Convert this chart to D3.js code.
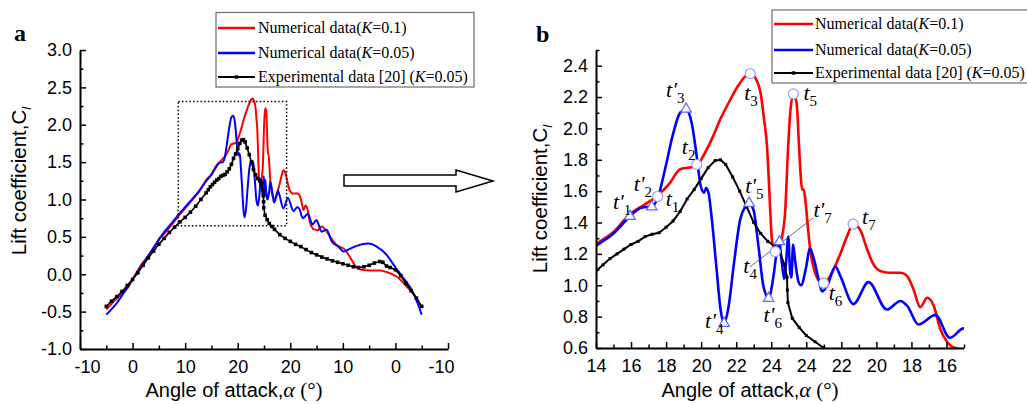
<!DOCTYPE html>
<html><head><meta charset="utf-8">
<script src="https://cdn.jsdelivr.net/npm/d3@7"></script>
<style>body{margin:0;background:#fff}svg{display:block}</style>
</head><body>
<svg id="chart" width="1027" height="404"></svg>
<script>
// Cycle angle: values <= 25 are the upstroke (alpha = value), values > 25 the downstroke (alpha = 50 - value)
const redData = [[-5,-0.47],[-3,-0.32],[-1,-0.19],[0.8,0.03],[1.7,0.13],[2.7,0.22],[4.6,0.42],[5.2,0.49],[5.9,0.53],[7.4,0.66],[9.0,0.80],[10.9,0.96],[12.8,1.12],[14.0,1.26],[15.0,1.34],[15.9,1.45],[16.7,1.51],[17.5,1.57],[18.2,1.65],[18.8,1.74],[19.3,1.75],[19.75,1.76],[20.1,1.82],[20.6,1.93],[21.1,2.06],[21.6,2.17],[22.1,2.27],[22.5,2.33],[22.8,2.35],[23.1,2.32],[23.4,2.22],[23.6,2.05],[23.75,1.90],[23.85,1.70],[23.94,1.48],[24.05,1.28],[24.23,1.215],[24.45,1.24],[24.6,1.30],[24.8,1.48],[24.95,1.85],[25.1,2.12],[25.27,2.22],[25.45,2.16],[25.58,1.90],[25.68,1.70],[25.76,1.61],[25.85,1.61],[25.95,1.54],[26.1,1.36],[26.23,1.22],[26.5,1.08],[26.8,1.02],[27.0,1.01],[27.37,1.06],[27.94,1.20],[28.32,1.31],[28.67,1.39],[29.09,1.35],[29.47,1.23],[29.85,1.13],[30.23,1.09],[30.7,1.08],[31.4,1.08],[31.75,1.06],[32.13,0.97],[32.5,0.86],[32.9,0.92],[33.27,0.87],[33.65,0.72],[34.03,0.64],[34.5,0.60],[35.2,0.59],[36.0,0.64],[36.6,0.60],[37.56,0.505],[38.83,0.39],[40.4,0.33],[41.68,0.19],[42.6,0.09],[43.5,0.06],[45.2,0.05],[47.0,0.05],[48.3,0.03],[50.2,-0.03],[52.1,-0.16],[54.0,-0.32],[55.0,-0.45]];

const blueData = [[-5,-0.54],[-3,-0.385],[-1.1,-0.185],[0.8,0.016],[2.7,0.216],[4.6,0.417],[5.85,0.55],[7.4,0.68],[9.0,0.82],[10.9,0.97],[12.8,1.13],[14.0,1.25],[15.0,1.33],[15.94,1.44],[16.5,1.49],[16.9,1.50],[17.18,1.50],[17.56,1.57],[17.94,1.74],[18.41,1.97],[18.8,2.10],[19.14,2.12],[19.47,2.03],[19.75,1.82],[19.98,1.63],[20.17,1.59],[20.28,1.62],[20.42,1.59],[20.61,1.42],[20.9,1.08],[21.09,0.86],[21.31,0.76],[21.56,0.86],[21.85,1.12],[22.23,1.42],[22.51,1.50],[22.74,1.52],[22.99,1.48],[23.27,1.25],[23.56,0.99],[23.85,0.92],[24.13,1.06],[24.32,1.22],[24.45,1.28],[24.6,1.15],[24.74,1.04],[24.85,1.15],[24.97,1.31],[25.07,1.10],[25.15,1.05],[25.25,1.26],[25.37,1.15],[25.56,1.02],[25.7,1.00],[26.0,1.12],[26.2,1.235],[26.45,1.16],[26.7,1.04],[26.9,0.96],[27.2,1.00],[27.66,1.12],[27.94,1.06],[28.69,0.88],[29.55,1.02],[30.6,0.845],[31.37,0.90],[31.75,0.87],[32.4,0.75],[33.37,0.81],[34.2,0.665],[34.98,0.725],[35.2,0.70],[35.97,0.57],[36.9,0.595],[37.88,0.44],[39.14,0.37],[40.1,0.305],[41.04,0.33],[42.63,0.38],[44.85,0.41],[46.43,0.37],[48.33,0.26],[49.92,0.10],[51.5,-0.05],[53.4,-0.25],[55.0,-0.54]];

const expData = [[-5,-0.43],[-4,-0.36],[-3,-0.30],[-2,-0.23],[-1,-0.15],[0,-0.07],[1,0.02],[2,0.12],[3,0.22],[4,0.31],[5,0.40],[6,0.48],[7,0.56],[8,0.63],[9,0.70],[10,0.76],[11,0.83],[12,0.91],[13,1.00],[14.0,1.09],[14.4,1.13],[14.8,1.17],[15.2,1.20],[15.6,1.23],[16.0,1.26],[16.4,1.28],[16.8,1.31],[17.2,1.325],[17.6,1.335],[18.0,1.37],[18.4,1.41],[18.8,1.47],[19.2,1.55],[19.6,1.61],[20.0,1.68],[20.4,1.75],[20.8,1.795],[21.1,1.80],[21.4,1.77],[21.8,1.69],[22.2,1.60],[22.6,1.50],[23.0,1.40],[23.4,1.33],[23.8,1.28],[24.2,1.25],[24.5,1.21],[24.75,1.13],[24.9,1.05],[24.92,0.97],[24.95,0.89],[25.2,0.79],[25.6,0.73],[26.0,0.68],[26.5,0.64],[27.0,0.60],[28.0,0.53],[29.0,0.48],[30.0,0.44],[31.0,0.40],[32.0,0.37],[33.0,0.33],[34.0,0.29],[35.0,0.26],[36.0,0.23],[37.0,0.205],[38.0,0.18],[39.0,0.16],[40.0,0.14],[41.0,0.12],[42.0,0.10],[43.0,0.09],[44.0,0.10],[45.0,0.12],[46.0,0.15],[47.0,0.17],[47.6,0.16],[48.3,0.11],[49.0,0.09],[50.0,0.06],[51.0,-0.02],[52.0,-0.12],[53.0,-0.22],[54.0,-0.32],[55.0,-0.43]];

// Instant markers (panel b)
const tPoints = [["1",17.52,1.566],["2",19.75,1.77],["3",22.8,2.35],["4",24.23,1.215],["5",25.27,2.22],["6",26.99,1.013],["7",28.67,1.39]];
const tPrimePoints = [["1",15.94,1.44],["2",17.18,1.50],["3",19.14,2.123],["4",21.31,0.757],["5",22.74,1.523],["6",23.85,0.917],["7",24.47,1.278]];

// Axes
const leftXTicks = [-10,0,10,20,30,40,50,60];
const leftXMinor = [-5,5,15,25,35,45,55];
const leftYTicks = [-1,-0.5,0,0.5,1,1.5,2,2.5,3];
const rightXTicks = [14,16,18,20,22,24,26,28,30,32,34];
const rightXMinor = [15,17,19,21,23,25,27,29,31,33,35];
const rightYTicks = [0.6,0.8,1.0,1.2,1.4,1.6,1.8,2.0,2.2,2.4];
const legendLabels = [["Numerical data(","K","=0.1)"],["Numerical data(","K","=0.05)"],["Experimental data [20] (","K","=0.05)"]];
const seriesColors = ["#ff0000","#0000ff","#000000"];

const alphaLabel = v => String(v <= 25 ? v : 50 - v);
const svg = d3.select("#chart");
const SANS = "'Liberation Sans', Arial, sans-serif";
const SERIF = "'Liberation Serif', 'Times New Roman', serif";

function panel(cfg) {
  const g = svg.append("g");
  const {x, y} = cfg;
  const clipId = "clip" + cfg.name;
  svg.append("clipPath").attr("id", clipId).append("rect")
    .attr("x", x.range()[0]).attr("y", y.range()[1])
    .attr("width", x.range()[1] - x.range()[0]).attr("height", y.range()[0] - y.range()[1]);
  const plot = g.append("g").attr("clip-path", `url(#${clipId})`);
  const line = d3.line().x(d => x(d[0])).y(d => y(d[1])).curve(d3.curveMonotoneX);
  plot.append("path").datum(redData).attr("d", line).attr("fill","none").attr("stroke",seriesColors[0]).attr("stroke-width",cfg.lw);
  plot.append("path").datum(blueData).attr("d", line).attr("fill","none").attr("stroke",seriesColors[1]).attr("stroke-width",cfg.lw);
  plot.append("path").datum(expData).attr("d", d3.line().x(d => x(d[0])).y(d => y(d[1]))).attr("fill","none").attr("stroke","#000").attr("stroke-width",cfg.lwExp);
  plot.selectAll("rect.m").data(expData).join("rect").attr("class","m")
    .attr("x", d => x(d[0]) - cfg.ms/2).attr("y", d => y(d[1]) - cfg.ms/2)
    .attr("width", cfg.ms).attr("height", cfg.ms).attr("fill","#000");

  // axes
  const bottom = y.range()[0], left = x.range()[0];
  const gx = g.append("g").attr("transform", `translate(0,${bottom})`)
    .call(d3.axisBottom(x).tickValues(cfg.xTicks).tickFormat(alphaLabel).tickSize(-6).tickSizeOuter(0).tickPadding(11));
  g.append("g").attr("transform", `translate(0,${bottom})`)
    .call(d3.axisBottom(x).tickValues(cfg.xMinor).tickFormat("").tickSize(-3.5).tickSizeOuter(0))
    .call(a => a.select(".domain").remove());
  g.append("g").attr("transform", `translate(${left},0)`)
    .call(d3.axisLeft(y).tickValues(cfg.yTicks).tickFormat(d => d.toFixed(1)).tickSize(-6).tickSizeOuter(0).tickPadding(8));
  g.append("g").attr("transform", `translate(${left},0)`)
    .call(d3.axisLeft(y).tickValues(cfg.yMinor).tickFormat("").tickSize(-3.5).tickSizeOuter(0))
    .call(a => a.select(".domain").remove());
  g.selectAll(".domain").attr("stroke","#000").attr("stroke-width",2);
  g.selectAll(".tick line").attr("stroke","#000").attr("stroke-width",1.5);
  g.selectAll(".tick text").attr("font-family", SANS).attr("font-size","18px").attr("fill","#000");
  if (cfg.endShift) {
    const tx = gx.selectAll(".tick text");
    tx.filter((d,i) => i === 0).attr("dx", cfg.endShift);
    tx.filter((d,i,n) => i === n.length - 1).attr("dx", -cfg.endShift);
  }

  // titles
  const xt = g.append("text").attr("x", cfg.xTitle[0]).attr("y", cfg.xTitle[1]).attr("text-anchor","middle")
    .attr("font-family", SANS).attr("font-size","20px");
  xt.append("tspan").text("Angle of attack,");
  xt.append("tspan").attr("font-family", SERIF).attr("font-style","italic").attr("font-size","22px").text("α");
  xt.append("tspan").attr("font-family", SERIF).attr("font-size","21px").text(" (°)");
  const yt = g.append("text").attr("transform", `translate(${cfg.yTitle[0]},${cfg.yTitle[1]}) rotate(-90)`).attr("text-anchor","middle")
    .attr("font-family", SANS).attr("font-size","20.5px");
  yt.append("tspan").text("Lift coefficient,C");
  yt.append("tspan").attr("font-style","italic").attr("font-size","13px").attr("dy","5").text("l");

  g.append("text").attr("x", cfg.letter[0]).attr("y", cfg.letter[1]).attr("font-family", SERIF)
    .attr("font-weight","bold").attr("font-size","24px").text(cfg.name);

  // legend
  const L = cfg.legend;
  g.append("rect").attr("x", L.x).attr("y", L.y).attr("width", L.w).attr("height", L.h)
    .attr("fill","#fff").attr("stroke","#777").attr("stroke-width",1.3);
  legendLabels.forEach((lab, i) => {
    const ly = L.rows[i];
    g.append("line").attr("x1", L.lx0).attr("x2", L.lx1).attr("y1", ly).attr("y2", ly)
      .attr("stroke", seriesColors[i]).attr("stroke-width", i === 2 ? 2.2 : 2.6);
    if (i === 2) g.append("rect").attr("x", (L.lx0 + L.lx1)/2 - 1.7).attr("y", ly - 1.7).attr("width",3.4).attr("height",3.4).attr("fill","#000");
    const t = g.append("text").attr("x", L.tx).attr("y", ly + 5).attr("font-family", SERIF).attr("font-size","16px");
    t.append("tspan").text(lab[0]);
    t.append("tspan").attr("font-style","italic").text(lab[1]);
    t.append("tspan").text(lab[2]);
  });
  return g;
}

const xL = d3.scaleLinear([-10, 60], [80, 448]);
const yL = d3.scaleLinear([-1, 3], [349, 50]);
const gA = panel({name:"a", x:xL, y:yL, lw:2, lwExp:1.6, ms:3.6,
  xTicks:leftXTicks, xMinor:leftXMinor, yTicks:leftYTicks, yMinor:d3.range(-0.75, 3, 0.5),
  endShift:7, xTitle:[234,397], yTitle:[26,181], letter:[14,41],
  legend:{x:216, y:12.5, w:258, h:74.5, rows:[28,53,77], lx0:218, lx1:255, tx:258}});

// zoom box and arrow (panel a)
gA.append("rect").attr("x", xL(8.7)).attr("y", yL(2.31)).attr("width", xL(29.3) - xL(8.7)).attr("height", yL(0.65) - yL(2.31))
  .attr("fill","none").attr("stroke","#000").attr("stroke-width",1.5).attr("stroke-dasharray","1.5,2.2");
svg.append("path").attr("d","M344,175 L456,175 L456,170 L493,181 L456,192 L456,186 L344,186 Z")
  .attr("fill","#fff").attr("stroke","#000").attr("stroke-width",1.5);

const xR = d3.scaleLinear([14, 35], [596, 964]);
const yR = d3.scaleLinear([0.6, 2.5], [348, 50]);
const gB = panel({name:"b", x:xR, y:yR, lw:2.6, lwExp:2, ms:3,
  xTicks:rightXTicks, xMinor:rightXMinor, yTicks:rightYTicks, yMinor:d3.range(0.7, 2.55, 0.2),
  endShift:0, xTitle:[750,397], yTitle:[547,199], letter:[536,42],
  legend:{x:772, y:10, w:260, h:73, rows:[24,50,73], lx0:774, lx1:813, tx:815}});

// leader line t4 -> t'7
gB.append("line").attr("x1",750).attr("y1",267).attr("x2",813).attr("y2",218).attr("stroke","#444").attr("stroke-width",0.8);

// markers
gB.selectAll("circle.t").data(tPoints).join("circle").attr("class","t")
  .attr("cx", d => xR(d[1])).attr("cy", d => yR(d[2])).attr("r", 5)
  .attr("fill","#fff").attr("stroke","#9a9cff").attr("stroke-width",1.2);
const tri = d3.symbol().type(d3.symbolTriangle).size(48);
gB.selectAll("path.tp").data(tPrimePoints).join("path").attr("class","tp")
  .attr("d", tri).attr("transform", d => `translate(${xR(d[1])},${yR(d[2])})`)
  .attr("fill","#fff").attr("stroke","#5a66ff").attr("stroke-width",1.2);

// annotation label offsets from the marker
const labelOffsets = {
  "t1":[8,10],"t2":[-15,-10],"t3":[-6,26],"t4":[-32,21],"t5":[10,6],"t6":[5,17],"t7":[9,0],
  "p1":[-17,-7],"p2":[-18,-16],"p3":[-20,-12],"p4":[-19,5],"p5":[-4,-10],"p6":[-5,24],"p7":[34,-25]
};
function addLabel(d, prime) {
  const off = labelOffsets[(prime ? "p" : "t") + d[0]];
  const t = gB.append("text").attr("x", xR(d[1]) + off[0]).attr("y", yR(d[2]) + off[1])
    .attr("font-family", SERIF).attr("font-size","22px");
  t.append("tspan").attr("font-style","italic").text(prime ? "t'" : "t");
  t.append("tspan").attr("font-size","15px").attr("dy","6").text(d[0]);
}
tPoints.forEach(d => addLabel(d, false));
tPrimePoints.forEach(d => addLabel(d, true));
</script>
</body></html>
